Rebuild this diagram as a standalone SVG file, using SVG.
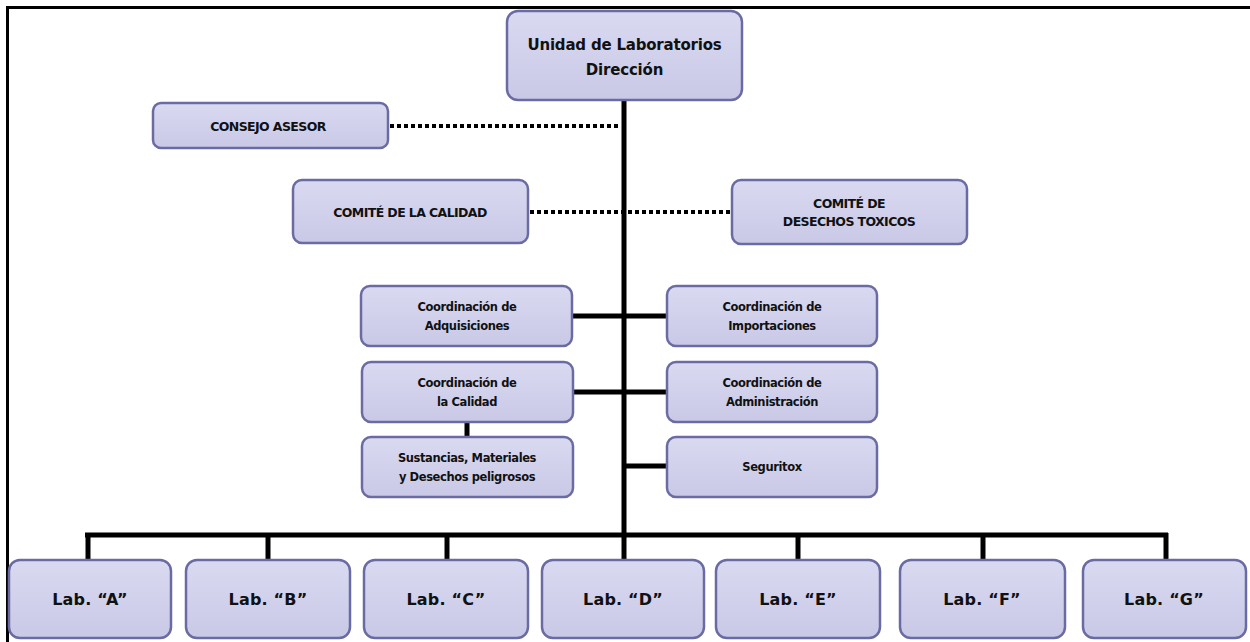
<svg xmlns="http://www.w3.org/2000/svg" width="1250" height="642" viewBox="0 0 1250 642">
<defs>
<linearGradient id="g" x1="0" y1="0" x2="0" y2="1">
<stop offset="0" stop-color="#d9d9f1"/>
<stop offset="1" stop-color="#c9c9e7"/>
</linearGradient>
</defs>
<style>
.box{fill:url(#g);stroke:#6b6ba3;stroke-width:2.5}
.t{font-family:"DejaVu Sans","Liberation Sans",sans-serif;font-weight:bold;fill:#111;text-anchor:middle;dominant-baseline:central}
.s{font-size:12.5px;letter-spacing:-0.6px}
.c{font-size:11.5px;letter-spacing:-0.4px}
.m{font-size:15px;letter-spacing:-0.2px}
.l{font-size:16px;letter-spacing:0.2px}
.ln{stroke:#000;stroke-width:5;fill:none}
.dot{stroke:#000;stroke-width:4;stroke-dasharray:4 3;fill:none}
</style>
<rect width="1250" height="642" fill="#fff"/>
<path d="M7.5 642 V7.5 H1250" stroke="#000" stroke-width="3" fill="none"/>
<g id="connectors">
<line class="ln" x1="624" y1="100" x2="624" y2="537"/>
<line class="ln" x1="85" y1="535" x2="1168" y2="535"/>
<line class="ln" x1="88" y1="535" x2="88" y2="560"/>
<line class="ln" x1="268" y1="535" x2="268" y2="560"/>
<line class="ln" x1="447" y1="535" x2="447" y2="560"/>
<line class="ln" x1="624" y1="535" x2="624" y2="560"/>
<line class="ln" x1="798" y1="535" x2="798" y2="560"/>
<line class="ln" x1="983" y1="535" x2="983" y2="560"/>
<line class="ln" x1="1166" y1="533" x2="1166" y2="560"/>
<line class="ln" x1="572" y1="316" x2="667" y2="316"/>
<line class="ln" x1="573" y1="392" x2="667" y2="392"/>
<line class="ln" x1="624" y1="466" x2="667" y2="466"/>
<line class="ln" x1="467" y1="422" x2="467" y2="437"/>
<line class="dot" x1="390" y1="126" x2="621" y2="126"/>
<line class="dot" x1="530" y1="212" x2="732" y2="212"/>
</g>
<g id="direccion"><rect class="box" x="507" y="11" width="235" height="89" rx="11"/><text class="t m" x="624.5" y="45">Unidad de Laboratorios</text><text class="t m" x="624.5" y="70">Dirección</text></g>
<g id="consejo"><rect class="box" x="153" y="103" width="235" height="45" rx="8"/><text class="t s" x="268" y="126">CONSEJO ASESOR</text></g>
<g id="comite-calidad"><rect class="box" x="293" y="180" width="235" height="63" rx="9"/><text class="t s" x="410" y="212">COMITÉ DE LA CALIDAD</text></g>
<g id="comite-desechos"><rect class="box" x="732" y="180" width="235" height="64" rx="9"/><text class="t s" x="849" y="203">COMITÉ DE</text><text class="t s" x="849" y="221">DESECHOS TOXICOS</text></g>
<g id="coord-adquisiciones"><rect class="box" x="361" y="286" width="211" height="60" rx="9"/><text class="t c" x="467" y="307">Coordinación de</text><text class="t c" x="467" y="326">Adquisiciones</text></g>
<g id="coord-importaciones"><rect class="box" x="667" y="286" width="210" height="60" rx="9"/><text class="t c" x="772" y="307">Coordinación de</text><text class="t c" x="772" y="326">Importaciones</text></g>
<g id="coord-calidad"><rect class="box" x="362" y="362" width="211" height="60" rx="9"/><text class="t c" x="467" y="383">Coordinación de</text><text class="t c" x="467" y="402">la Calidad</text></g>
<g id="coord-administracion"><rect class="box" x="667" y="362" width="210" height="60" rx="9"/><text class="t c" x="772" y="383">Coordinación de</text><text class="t c" x="772" y="402">Administración</text></g>
<g id="sustancias"><rect class="box" x="362" y="437" width="211" height="60" rx="9"/><text class="t c" x="467" y="458">Sustancias, Materiales</text><text class="t c" x="467" y="477">y Desechos peligrosos</text></g>
<g id="seguritox"><rect class="box" x="667" y="437" width="210" height="60" rx="9"/><text class="t c" x="772" y="467">Seguritox</text></g>
<g id="lab-a"><rect class="box" x="9" y="560" width="162" height="78" rx="11"/><text class="t l" x="90" y="599">Lab. “A”</text></g>
<g id="lab-b"><rect class="box" x="186" y="560" width="164" height="78" rx="11"/><text class="t l" x="268" y="599">Lab. “B”</text></g>
<g id="lab-c"><rect class="box" x="364" y="560" width="164" height="78" rx="11"/><text class="t l" x="446" y="599">Lab. “C”</text></g>
<g id="lab-d"><rect class="box" x="542" y="560" width="162" height="78" rx="11"/><text class="t l" x="623" y="599">Lab. “D”</text></g>
<g id="lab-e"><rect class="box" x="716" y="560" width="164" height="78" rx="11"/><text class="t l" x="798" y="599">Lab. “E”</text></g>
<g id="lab-f"><rect class="box" x="900" y="560" width="165" height="78" rx="11"/><text class="t l" x="982" y="599">Lab. “F”</text></g>
<g id="lab-g"><rect class="box" x="1083" y="560" width="163" height="78" rx="11"/><text class="t l" x="1164" y="599">Lab. “G”</text></g>
</svg>
